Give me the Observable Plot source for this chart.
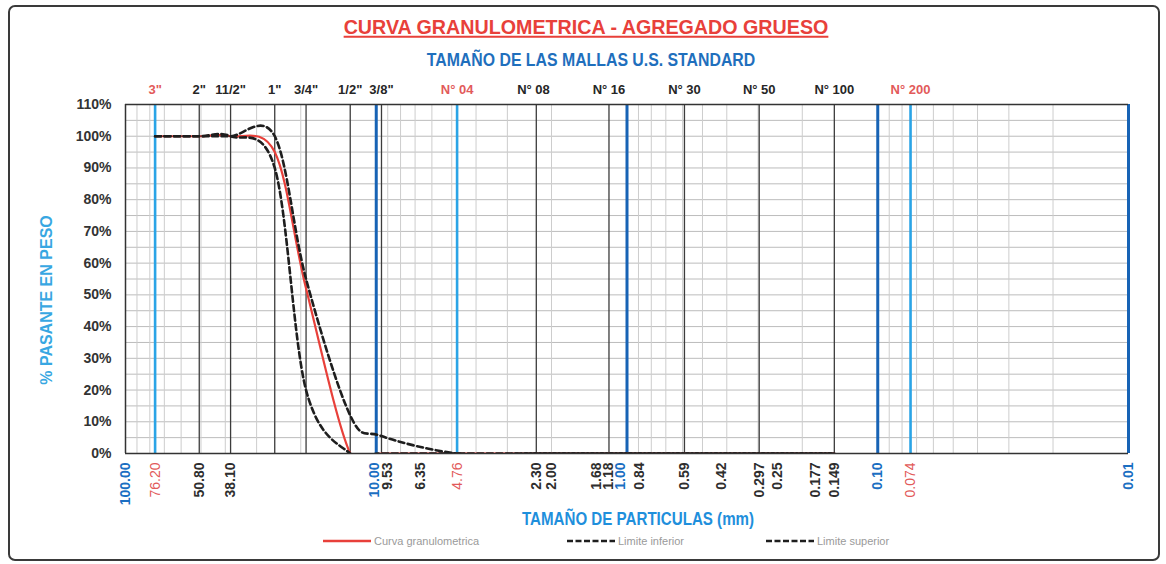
<!DOCTYPE html>
<html><head><meta charset="utf-8">
<script src="https://cdn.jsdelivr.net/npm/d3@7"></script>
<script src="https://cdn.jsdelivr.net/npm/@observablehq/plot@0.6"></script>
<style>
body{margin:0;background:#fff;font-family:"Liberation Sans",Arial,sans-serif}
#wrap{position:relative;width:1166px;height:564px;overflow:hidden;background:#fff}
#wrap svg.chart{position:absolute;left:0;top:0}
#frame{position:absolute;left:8px;top:5px;width:1152px;height:556px;border:2px solid #3a3a3a;border-radius:7px;box-sizing:border-box;pointer-events:none}
.t{position:absolute;white-space:nowrap;font-weight:bold;line-height:1}
.leg{position:absolute;top:534px;height:14px;display:flex;align-items:center;font-size:11px;color:#9a9a9a;white-space:nowrap}
.leg svg{margin-right:3px}
</style></head>
<body><div id="wrap"></div>
<script>
// ---- data ----
const sizes  = [76.2, 50.8, 38.1, 25.4, 19.05, 12.7, 9.53, 4.76, 2.36, 1.18, 0.59, 0.297, 0.149];
const curva  = [100, 100, 100, 95, 52, 0, 0, 0, 0, 0, 0, 0, 0];
const limInf = [100, 100, 100, 90, 20, 0, 0, 0, 0, 0, 0, 0, 0];
const limSup = [100, 100, 100, 100, 55, 12, 5.5, 0, 0, 0, 0, 0, 0];
const seriesNames = ["Curva granulometrica", "Limite inferior", "Limite superior"];

const meshNames = ['3"', '2"', '11/2"', '1"', '3/4"', '1/2"', '3/8"', 'N° 04', 'N° 08', 'N° 16', 'N° 30', 'N° 50', 'N° 100', 'N° 200'];
const meshSizes = [76.2, 50.8, 38.1, 25.4, 19.05, 12.7, 9.53, 4.76, 2.36, 1.18, 0.59, 0.297, 0.149, 0.074];

const sieveLines = [50.8, 38.1, 25.4, 19.05, 12.7, 9.53, 2.30, 1.18, 0.59, 0.297, 0.149];
const keySizes   = [76.2, 4.76, 0.074];
const decades    = [10, 1, 0.1, 0.01];

const bottomLabels = ["100.00","76.20","50.80","38.10","10.00","9.53","6.35","4.76","2.30","2.00","1.68","1.18","1.00","0.84","0.59","0.42","0.297","0.25","0.177","0.149","0.10","0.074","0.01"];
const yTicks = [0,10,20,30,40,50,60,70,80,90,100,110];

const title = "CURVA GRANULOMETRICA - AGREGADO GRUESO";
const subtitle = "TAMAÑO DE LAS MALLAS U.S. STANDARD";
const xTitle = "TAMAÑO DE PARTICULAS (mm)";
const yTitle = "% PASANTE EN PESO";

// label nudges (pixels) so crowded labels sit as in the reference
const nudge = {"10.00": -2, "9.53": 6, "6.35": -5, "1.68": 26, "1.00": -6, "0.84": -6};

// ---- derived tables ----
const rows = sizes.map((s, i) => ({size: s, curva: curva[i], inf: limInf[i], sup: limSup[i]}));
const minor = [];
for (const e of [-2, -1, 0, 1]) for (let k = 2; k <= 9; k++) minor.push(+(k * Math.pow(10, e)).toPrecision(6));
const yGrid = d3.range(0, 111, 5);
const isKey = v => keySizes.some(k => Math.abs(k - v) < 1e-9);
const isDec = v => [100, 10, 1, 0.1, 0.01].some(k => Math.abs(k - v) < 1e-9);
const meshTable = meshSizes.map((s, i) => ({s, name: meshNames[i], color: isKey(s) ? "#e25a5a" : "#262626"}));
const botTable = bottomLabels.map(t => {
  const v = parseFloat(t);
  return {v, t, color: isDec(v) ? "#1b6fc2" : isKey(v) ? "#e25a5a" : "#2e2e2e", key: isKey(v), dx: nudge[t] || 0};
});

const curve = d3.curveCardinal.tension(0);
const RED = "#e8403a";

const botMarks = [];
const groups = d3.groups(botTable, d => d.key, d => d.dx);
for (const [key, byDx] of groups) for (const [dx, data] of byDx) {
  botMarks.push(Plot.text(data, {x: "v", text: "t", frameAnchor: "bottom", dy: 9, dx, rotate: -90, textAnchor: "end", lineAnchor: "middle", fontSize: 14, fontWeight: key ? "normal" : "bold", fill: "color"}));
}

const chart = Plot.plot({
  width: 1166, height: 564,
  marginLeft: 125, marginRight: 38, marginTop: 104, marginBottom: 111,
  style: {background: "transparent", fontFamily: "Liberation Sans, Arial, sans-serif", overflow: "visible"},
  x: {type: "log", domain: [100, 0.01], axis: null},
  y: {domain: [0, 110], axis: null},
  marks: [
    Plot.ruleY(yGrid, {stroke: "#bcbcbc", strokeWidth: 1}),
    Plot.ruleX(minor, {stroke: "#cdcdcd", strokeWidth: 1}),
    Plot.ruleX(sieveLines, {stroke: "#3c3c3c", strokeWidth: 1.3}),
    Plot.ruleX(keySizes, {stroke: "#2aa4e6", strokeWidth: 2.6}),
    Plot.ruleX(decades, {stroke: "#1763b5", strokeWidth: 3}),
    Plot.ruleY([0, 110], {stroke: "#333", strokeWidth: 1.5}),
    Plot.ruleX([100], {stroke: "#333", strokeWidth: 1.5}),
    Plot.line(rows, {x: "size", y: "curva", curve, stroke: RED, strokeWidth: 2.2, clip: true}),
    Plot.line(rows, {x: "size", y: "inf", curve, stroke: "#1e1e1e", strokeWidth: 2.6, strokeDasharray: "6,3.5", clip: true}),
    Plot.line(rows, {x: "size", y: "sup", curve, stroke: "#1e1e1e", strokeWidth: 2.6, strokeDasharray: "6,3.5", clip: true}),
    // y tick labels
    Plot.text(yTicks, {x: 100, y: d => d, text: d => d + "%", textAnchor: "end", dx: -14, fontSize: 14, fontWeight: "bold", fill: "#333"}),
    // top mesh labels
    Plot.text(meshTable, {x: "s", text: "name", frameAnchor: "top", dy: -20, fontSize: 13, fontWeight: "bold", fill: "color"}),
    // bottom size labels (rotated)
    ...botMarks
  ]
});
chart.classList.add("chart");

const wrap = document.getElementById("wrap");
wrap.appendChild(chart);

function addText(txt, left, top, css, transform) {
  const d = document.createElement("div");
  d.className = "t";
  d.textContent = txt;
  d.style.cssText += `left:${left}px;top:${top}px;` + css;
  d.style.transform = "translate(-50%,-50%) " + (transform || "");
  wrap.appendChild(d);
}
addText(title, 586, 27, "font-size:20.5px;color:#e8403a;text-decoration:underline;text-decoration-thickness:1.5px;text-underline-offset:2px;", "scaleX(0.96)");
addText(subtitle, 591, 60, "font-size:18px;color:#1f6fbd;", "scaleX(0.88)");
addText(xTitle, 638, 519, "font-size:18px;color:#1f8fdc;", "scaleX(0.84)");
addText(yTitle, 47, 300, "font-size:16px;color:#38a7e2;", "rotate(-90deg)");

// legend
const legX = [323, 567, 766];
seriesNames.forEach((name, i) => {
  const item = document.createElement("div");
  item.className = "leg";
  item.style.left = legX[i] + "px";
  const dash = i === 0 ? "" : 'stroke-dasharray="6,2.5"';
  const col = i === 0 ? RED : "#1e1e1e";
  item.innerHTML = `<svg width="48" height="6"><line x1="0" y1="3" x2="48" y2="3" stroke="${col}" stroke-width="2.5" ${dash}/></svg><span>${name}</span>`;
  wrap.appendChild(item);
});

const frame = document.createElement("div");
frame.id = "frame";
wrap.appendChild(frame);
</script>
</body></html>
